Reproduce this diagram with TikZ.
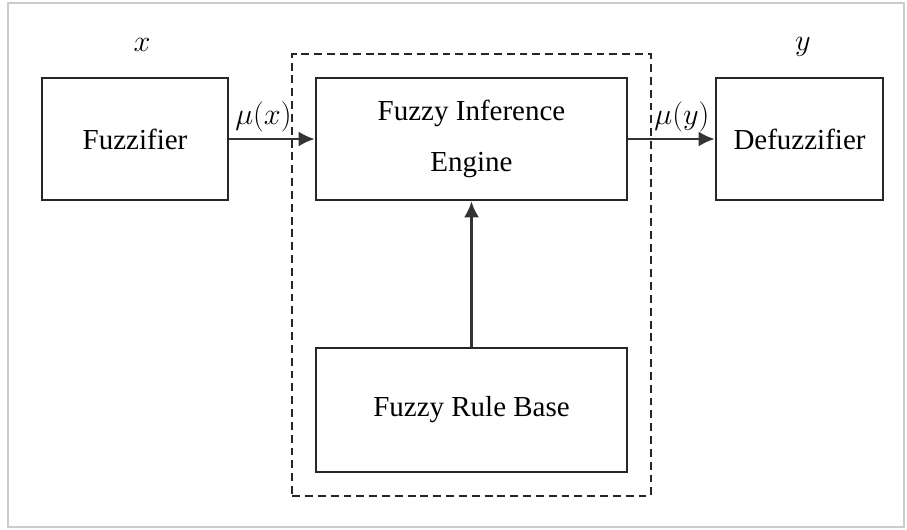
\documentclass[tikz,border=0pt]{standalone}
\usepackage{fontspec}
\setmainfont{Liberation Serif}
\usetikzlibrary{arrows.meta,positioning,fit,calc}

\begin{document}
\begin{tikzpicture}[line width=1.5pt,
  block/.style={rectangle, draw=black!85, minimum height=2.44cm, font=\fontsize{16.5}{29}\selectfont, align=center},
  flow/.style={draw=black!80, line width=1.4pt, -{Latex[length=0.32cm,width=0.3cm]}},
  lab/.style={font=\fontsize{16.5}{20}\selectfont}]
  % frame and size
  \useasboundingbox (0,0) rectangle (18.14,-10.58);
  \draw[black!20, line width=1pt] (0.16,-0.06) rectangle (18.08,-10.54);

  \node[block, minimum width=3.72cm] (fuzz) at (2.70,-2.78) {Fuzzifier};
  \node[block, minimum width=6.22cm] (infer) at (9.43,-2.78) {Fuzzy Inference\\Engine};
  \node[block, minimum width=3.34cm] (defuzz) at (15.99,-2.78) {Defuzzifier};
  \node[block, minimum width=6.22cm, minimum height=2.48cm] (rules) at (9.43,-8.20) {Fuzzy Rule Base};

  \node[lab] (xin) at (2.84,-0.90) {$x$};
  \node[lab] (yout) at (16.06,-0.94) {$y$};

  \draw[flow] (fuzz) -- node[lab, above, pos=0.4] (mux) {$\mu(x)$} (infer);
  \draw[flow] (infer) -- node[lab, above, pos=0.62] (muy) {$\mu(y)$} (defuzz);
  \draw[flow] (rules) -- (infer);

  % inference system
  \node[draw=black!85, line width=1.2pt, dash pattern=on 4.5pt off 2.8pt,
        inner sep=0.45cm, fit=(infer)(rules)] (fis) {};
\end{tikzpicture}
\end{document}
